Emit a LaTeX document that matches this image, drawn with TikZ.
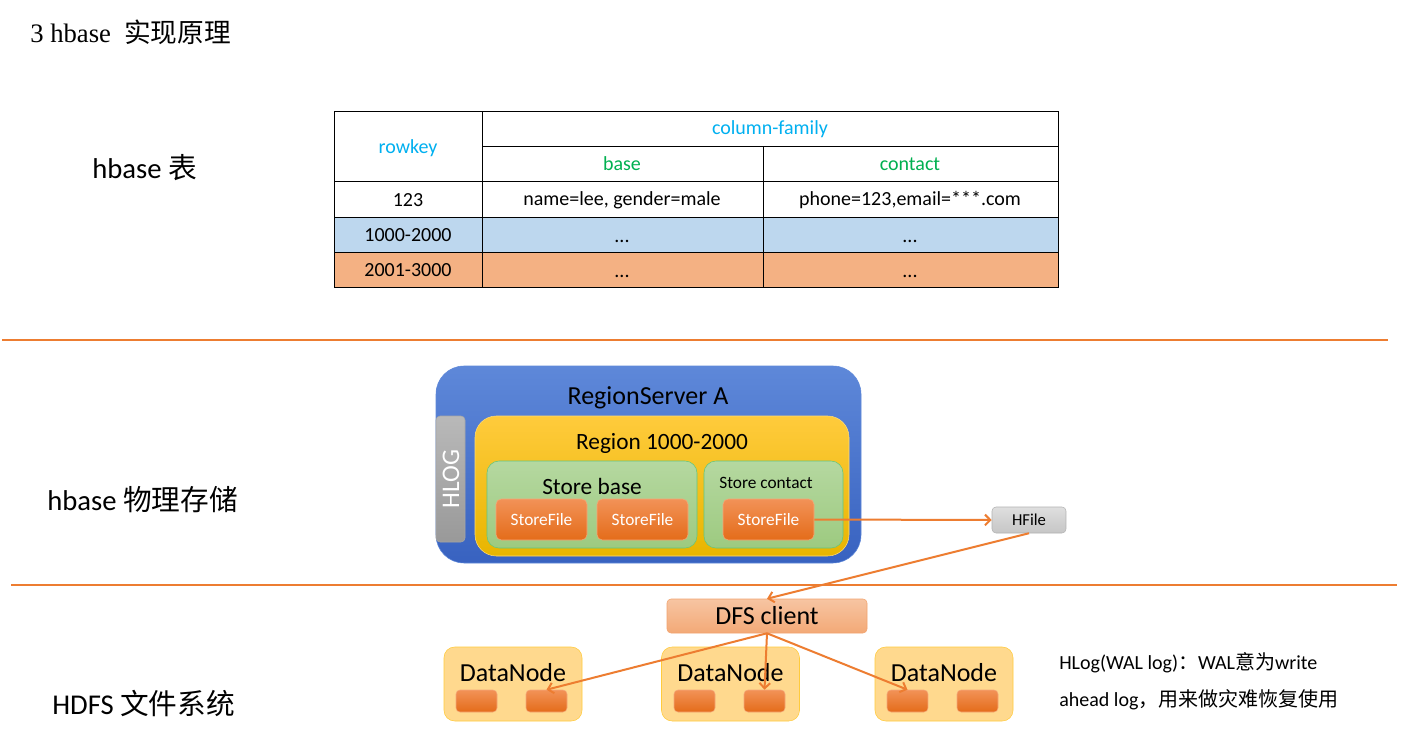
\documentclass[tikz,border=0pt]{standalone}
\usepackage{fontspec}
\usepackage{tikz}
\setmainfont{Carlito}
\newfontfamily\cjk{Noto Sans CJK SC}
\newfontfamily\titlefont{Liberation Serif}
\usetikzlibrary{arrows.meta}
\definecolor{hbline}{HTML}{ED7D31}
\definecolor{keyblue}{HTML}{00B0F0}
\definecolor{famgreen}{HTML}{00B050}
\definecolor{rowblue}{HTML}{BDD7EE}
\definecolor{roworange}{HTML}{F4B183}
\definecolor{srvtop}{HTML}{5E88D9}
\definecolor{srvbot}{HTML}{3862C0}
\definecolor{regtop}{HTML}{FFCB3C}
\definecolor{regbot}{HTML}{E8B500}
\definecolor{sttop}{HTML}{B5D8A0}
\definecolor{stbot}{HTML}{9DCA80}
\definecolor{sftop}{HTML}{F29257}
\definecolor{sfbot}{HTML}{E46C1A}
\definecolor{dnfill}{HTML}{FFD98E}

\begin{document}
\begin{tikzpicture}[x=0.75pt,y=-0.75pt,
  big/.style={font=\fontsize{19.5}{23}\selectfont},
  mid/.style={font=\fontsize{17.5}{21}\selectfont},
  small/.style={font=\fontsize{13}{15}\selectfont},
  side/.style={font=\fontsize{21.5}{25}\selectfont,anchor=west,inner sep=0pt},
  cell/.style={font=\fontsize{15}{18}\selectfont},
  server/.style={draw=srvtop,top color=srvtop,bottom color=srvbot,rounded corners=21pt,minimum width=318.75pt,minimum height=147.75pt,inner sep=0pt},
  hlogbox/.style={draw=gray!70,top color=gray!55,bottom color=gray!80,rounded corners=3pt,minimum width=21.75pt,minimum height=94.5pt,inner sep=0pt},
  region/.style={draw=regtop!70,top color=regtop,bottom color=regbot,rounded corners=16pt,minimum width=280.5pt,minimum height=105pt,inner sep=0pt},
  store/.style={draw=famgreen!45!sttop,top color=sttop,bottom color=stbot,rounded corners=9pt,minimum height=65.25pt,inner sep=0pt},
  filebox/.style={draw=sftop!80,top color=sftop,bottom color=sfbot,rounded corners=4pt,minimum width=68.25pt,minimum height=30.75pt,inner sep=0pt,text=white,small},
  block/.style={draw=sftop!80,top color=sftop,bottom color=sfbot,rounded corners=3pt,minimum width=30.75pt,minimum height=16.5pt,inner sep=0pt},
  hfilebox/.style={draw=gray!60,top color=gray!25,bottom color=gray!45,rounded corners=3pt,minimum width=55.5pt,minimum height=19.5pt,inner sep=0pt,font=\fontsize{12.5}{15}\selectfont},
  clientbox/.style={draw=hbline!70,top color=roworange!75,bottom color=roworange!110,rounded corners=3pt,minimum width=150pt,minimum height=25.5pt,inner sep=0pt,big},
  datanode/.style={draw=regtop,fill=dnfill,rounded corners=8pt,minimum width=103.5pt,minimum height=55.5pt,inner sep=0pt},
  link/.style={draw=hbline,line width=1.5pt,-{Straight Barb[length=4pt,width=8pt]}},
  split/.style={draw=hbline,line width=2pt}]
\useasboundingbox (0,0) rectangle (1406,749);
\fill[white] (0,0) rectangle (1406,749);

\node[anchor=west,inner sep=0pt,font=\fontsize{20}{23}\selectfont] (title) at (30,32) {\titlefont 3 hbase\ \ {\cjk 实现原理}};
\node[side] (tablelabel) at (92,168) {hbase {\cjk 表}};
\node[side] (storelabel) at (47,500) {hbase {\cjk 物理存储}};
\node[side] (hdfslabel) at (52,703) {HDFS {\cjk 文件系统}};

\fill[rowblue] (334,217) rectangle (1058,252);
\fill[roworange] (334,252) rectangle (1058,287);
\draw (334,111) rectangle (1058,287);
\draw (482,146) -- (1058,146);
\draw (334,181) -- (1058,181);
\draw (334,217) -- (1058,217);
\draw (334,252) -- (1058,252);
\draw (482,111) -- (482,287);
\draw (763,146) -- (763,287);
\node[cell,text=keyblue] (rowkey) at (408,148) {rowkey};
\node[cell,text=keyblue] (family) at (770,129) {column-family};
\node[cell,text=famgreen] (base) at (622,164) {base};
\node[cell,text=famgreen] (contact) at (910,164) {contact};
\node[cell] (k1) at (408,200) {123};
\node[cell] (b1) at (622,200) {name=lee, gender=male};
\node[cell] (c1) at (910,200) {phone=123,email=***.com};
\node[cell] (k2) at (408,235) {1000-2000};
\node[cell,anchor=base] (b2) at (622,242) {.{}.{}.};
\node[cell,anchor=base] (c2) at (910,242) {.{}.{}.};
\node[cell] (k3) at (408,270) {2001-3000};
\node[cell,anchor=base] (b3) at (622,277) {.{}.{}.};
\node[cell,anchor=base] (c3) at (910,277) {.{}.{}.};

\draw[split] (2,340) -- (1388,340);
\draw[split] (11,585) -- (1397,585);

\node[server] (rs) at (648.5,464.5) {};
\node[big] (rslabel) at (648,398) {RegionServer A};
\node[hlogbox] (hlog) at (450.5,479) {};
\node[rotate=90,text=white,font=\fontsize{19}{22}\selectfont] (hloglabel) at (451,479) {HLOG};
\node[region] (reg) at (662,486) {};
\node[mid] (reglabel) at (662,443) {Region 1000-2000};
\node[store,minimum width=157.5pt] (sbase) at (592,504.5) {};
\node[mid] (sbaselabel) at (592,486) {Store base};
\node[store,minimum width=104.25pt] (scontact) at (773.5,504.5) {};
\node[small] (scontactlabel) at (766,483) {Store contact};
\node[filebox] (sf1) at (541.5,519.5) {StoreFile};
\node[filebox] (sf2) at (642.5,519.5) {StoreFile};
\node[filebox] (sf3) at (768.5,519.5) {StoreFile};
\node[hfilebox] (hfile) at (1029,520) {HFile};

\node[clientbox] (dfs) at (767,616) {DFS client};
\node[datanode] (dn1) at (513,684) {};
\node[datanode] (dn2) at (730.5,684) {};
\node[datanode] (dn3) at (944,684) {};
\node[big] (dn1label) at (513,673) {DataNode};
\node[big] (dn2label) at (730.5,673) {DataNode};
\node[big] (dn3label) at (944,673) {DataNode};
\node[block] (dn1a) at (476.5,701) {};
\node[block] (dn1b) at (546.5,701) {};
\node[block] (dn2a) at (694.5,701) {};
\node[block] (dn2b) at (764.5,701) {};
\node[block] (dn3a) at (907.5,701) {};
\node[block] (dn3b) at (977.5,701) {};

\draw[link] (sf3.east) -- (hfile.west);
\draw[link] (hfile.south) -- (dfs.north);
\draw[link] (dfs.south) -- (dn1b.north);
\draw[link] (dfs.south) -- (dn2b.north);
\draw[link] (dfs.south) -- (dn3a.north);

\node[anchor=north west,align=left,inner sep=0pt,font=\fontsize{15}{27.75}\selectfont] (note) at (1059,652) {HLog(WAL log){\cjk ：}WAL{\cjk 意为}write\\ahead log{\cjk ，用来做灾难恢复使用}};
\end{tikzpicture}
\end{document}
